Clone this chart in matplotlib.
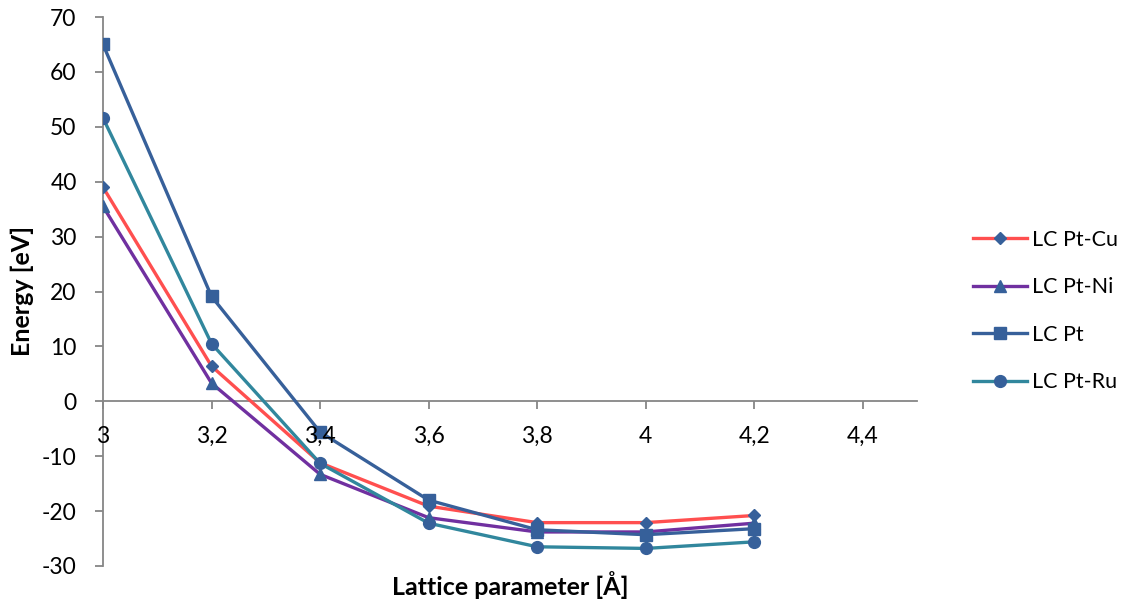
import matplotlib
matplotlib.use("Agg")
import matplotlib.pyplot as plt
from matplotlib.ticker import FixedLocator, FuncFormatter

plt.rcParams['font.family'] = ['Lato', 'DejaVu Sans']
plt.rcParams['axes.unicode_minus'] = False

x = [3.0, 3.2, 3.4, 3.6, 3.8, 4.0, 4.2]
pt_cu = [39.0, 6.4, -11.2, -19.1, -22.1, -22.1, -20.8]
pt_ni = [35.5, 3.3, -13.3, -21.2, -23.8, -23.8, -22.2]
pt = [65.0, 19.1, -5.6, -18.0, -23.4, -24.3, -23.2]
pt_ru = [51.6, 10.5, -11.3, -22.2, -26.5, -26.8, -25.6]

names = ['LC Pt-Cu', 'LC Pt-Ni', 'LC Pt', 'LC Pt-Ru']
series = [pt_cu, pt_ni, pt, pt_ru]
colors = ['#FF4F4F', '#7030A0', '#37609A', '#31879D']
markers = ['D', '^', 's', 'o']
msizes = [6, 8, 8, 8.5]
marker_color = '#36609A'

fig = plt.figure(figsize=(11.32, 6.01), dpi=100)
ax = fig.add_axes([103/1132, 1-566/601, (917-103)/1132, (566-17)/601])

for y, c, m, ms, n in zip(series, colors, markers, msizes, names):
    ax.plot(x, y, color=c, lw=2.4, marker=m, markersize=ms,
            markerfacecolor=marker_color, markeredgecolor=marker_color,
            label=n, zorder=3)

ax.set_xlim(3.0, 4.5)
ax.set_ylim(-30, 70)
ax.xaxis.set_major_locator(FixedLocator([3.0, 3.2, 3.4, 3.6, 3.8, 4.0, 4.2, 4.4]))
ax.yaxis.set_major_locator(FixedLocator(list(range(-30, 71, 10))))
ax.xaxis.set_major_formatter(FuncFormatter(lambda v, p: f"{v:g}".replace('.', ',')))
ax.yaxis.set_major_formatter(FuncFormatter(lambda v, p: f"{v:g}"))

spine_c = '#868686'
ax.spines['top'].set_visible(False)
ax.spines['right'].set_visible(False)
ax.spines['bottom'].set_position(('data', 0))
ax.spines['bottom'].set_color(spine_c)
ax.spines['left'].set_color(spine_c)
ax.spines['bottom'].set_linewidth(1.3)
ax.spines['left'].set_linewidth(1.3)
ax.tick_params(axis='x', direction='out', length=6, width=1.3, color=spine_c,
               labelsize=16.5, pad=12)
ax.tick_params(axis='y', direction='out', length=6, width=1.3, color=spine_c,
               labelsize=16.5, pad=13)
ax.xaxis.set_zorder(5)

fig.text(510/1132, 1-585/601, 'Lattice parameter [Å]', ha='center', va='center',
         fontsize=18, fontweight='bold')
fig.text(22/1132, 1-291/601, 'Energy [eV]', ha='center', va='center',
         rotation=90, fontsize=18, fontweight='bold')

fig.legend(loc='center left', bbox_to_anchor=(973/1132, 1-311/601), frameon=False,
           borderpad=0, borderaxespad=0,
           fontsize=15.5, handlelength=2.5, labelspacing=1.28, handletextpad=0.25)

fig.savefig('out.png', dpi=100)
